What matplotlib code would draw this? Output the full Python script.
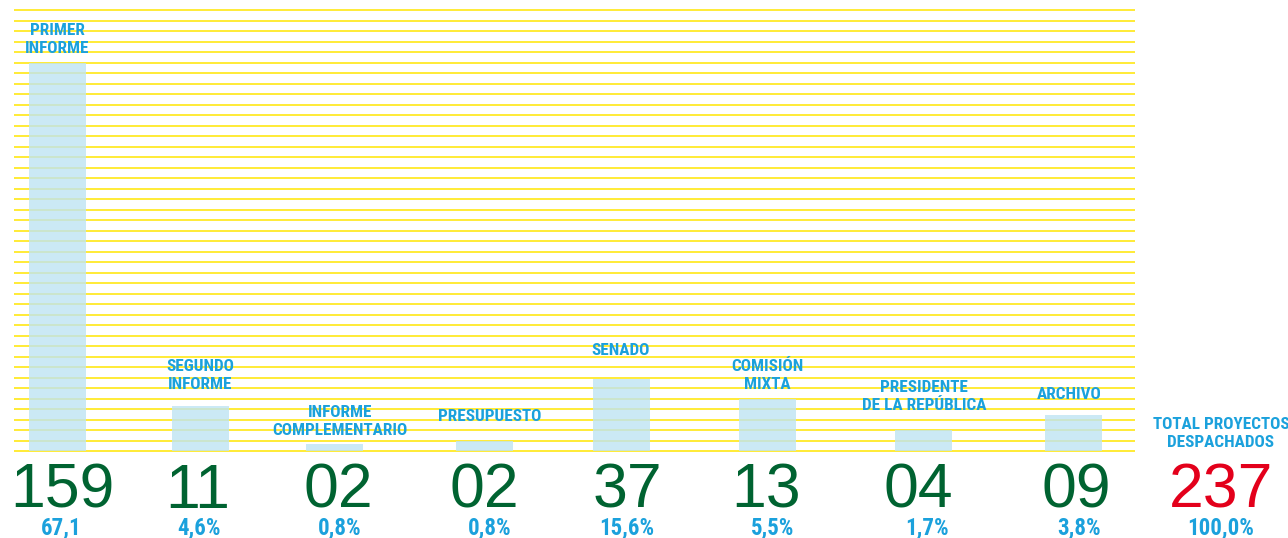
import matplotlib
matplotlib.use("Agg")
import matplotlib.pyplot as plt

# datos
categorias = ["PRIMER\nINFORME", "SEGUNDO\nINFORME", "INFORME\nCOMPLEMENTARIO", "PRESUPUESTO",
              "SENADO", "COMISIÓN\nMIXTA", "PRESIDENTE\nDE LA REPÚBLICA", "ARCHIVO"]
cantidades = ["159", "11", "02", "02", "37", "13", "04", "09"]
porcentajes = ["67,1", "4,6%", "0,8%", "0,8%", "15,6%", "5,5%", "1,7%", "3,8%"]
alturas = [37, 4.3, 0.7, 1.0, 6.9, 5.0, 2.0, 3.5]  # altura de barra en lineas de la grilla
total_label = "TOTAL PROYECTOS\nDESPACHADOS"
total = "237"
total_pct = "100,0%"

# layout (pixeles)
W, H = 1288, 538
base_px = 451.3   # linea inferior
paso = 10.5       # separacion entre lineas
n_lineas = 43
x_barras = [57.5, 200.5, 334.5, 484.5, 621.5, 767.5, 923.5, 1073.5]
x_etiq = [57, 200, 340, 490, 621, 767, 924, 1069]
y_etiq = [53, 389, 435, 421, 355, 389, 410, 399]   # baseline de la ultima linea
x_num = [62, 198, 338, 484, 627, 766, 918, 1076]
x_pct = [61, 199, 340, 490, 627, 773, 927, 1079]
x_total = 1221

def gy(px):
  return (base_px - px) / paso

cond = "Roboto Condensed"
normal = "Liberation Sans"

azul = "#1ba1dc"
verde = "#006331"
rojo = "#e3001b"

fig = plt.figure(figsize=(W / 100, H / 100), dpi=100)
ax = fig.add_axes([0, 0, 1, 1])
ax.set_xlim(0, W)
ax.set_ylim(gy(H), gy(0))
ax.axis("off")

# grilla amarilla
ax.hlines(range(n_lineas), 14, 1135, color="#ffe500", lw=1.1, zorder=1)

# barras
ax.bar(x_barras, alturas, width=57, bottom=0, color=(191/255, 228/255, 243/255),
       alpha=0.8, zorder=2, linewidth=0)

for i in range(len(categorias)):
  ax.text(x_etiq[i], gy(y_etiq[i]), categorias[i], ha="center", va="baseline",
          fontsize=12.3, fontweight="bold", family=cond, color=azul,
          linespacing=1.25, zorder=3)
  ax.text(x_num[i], gy(508), cantidades[i], ha="center", va="baseline",
          fontsize=45, family=normal, color=verde)
  ax.text(x_pct[i], gy(534.5), porcentajes[i], ha="center", va="baseline",
          fontsize=16.5, fontweight="bold", family=cond, color=azul)

ax.text(x_total, gy(447), total_label, ha="center", va="baseline",
        fontsize=12.3, fontweight="bold", family=cond, color=azul, linespacing=1.25)
ax.text(x_total, gy(508), total, ha="center", va="baseline",
        fontsize=45, family=normal, color=rojo)
ax.text(x_total, gy(534.5), total_pct, ha="center", va="baseline",
        fontsize=16.5, fontweight="bold", family=cond, color=azul)

fig.savefig("out.png", dpi=100)
